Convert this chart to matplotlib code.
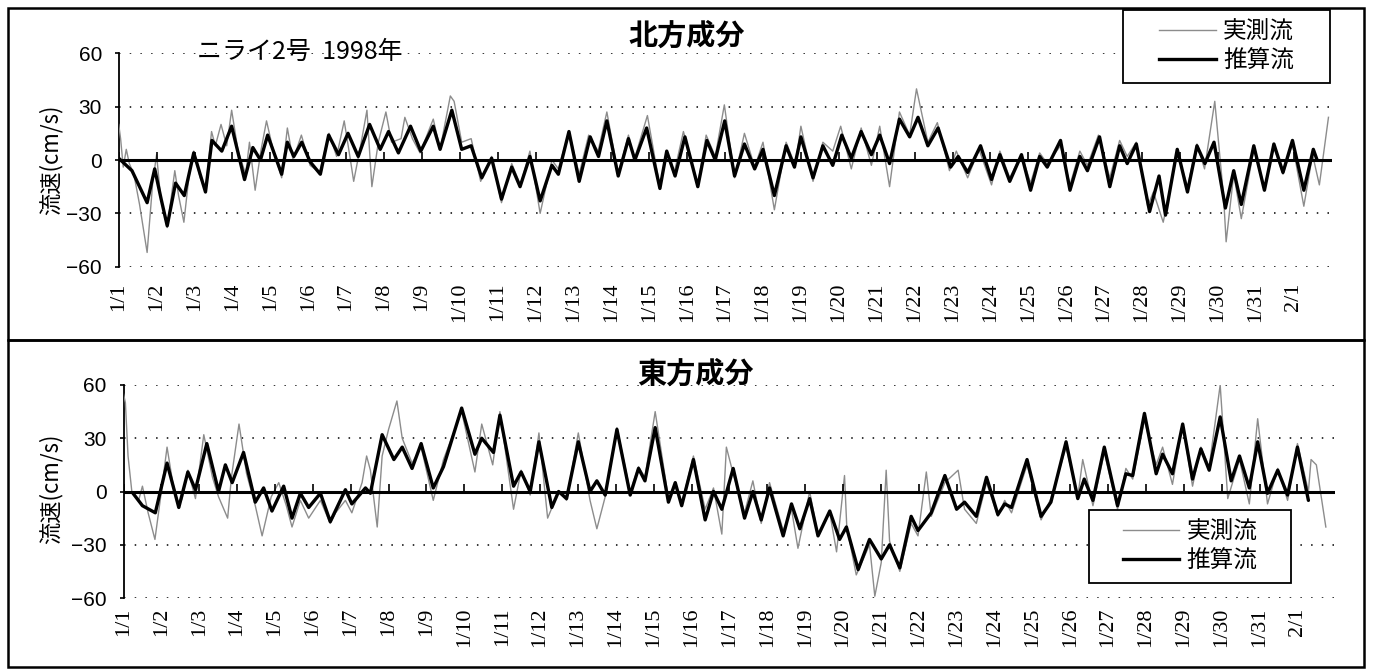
import matplotlib
matplotlib.use('Agg')
import matplotlib.pyplot as plt
from matplotlib.patches import Rectangle
from matplotlib.lines import Line2D

W, H = 1374, 670
CJK = ['Noto Sans CJK JP', 'DejaVu Sans']

# x axis: days since 1998-01-01 00:00
tick_days = list(range(32))
date_labels = ['1/%d' % d for d in range(1, 32)] + ['2/1']

# north component, observed (thin grey)
north_obs_day = [0.00, 0.05, 0.12, 0.20, 0.28, 0.40, 0.55, 0.75, 0.90, 1.00,
                 1.10, 1.28, 1.48, 1.58, 1.72, 1.85, 1.98, 2.15, 2.29, 2.45,
                 2.55, 2.70, 2.85, 2.98, 3.15, 3.35, 3.45, 3.60, 3.75, 3.90,
                 4.05, 4.30, 4.45, 4.60, 4.82, 5.05, 5.30, 5.55, 5.75, 5.95,
                 6.10, 6.20, 6.40, 6.55, 6.68, 6.85, 7.05, 7.20, 7.45, 7.55,
                 7.75, 7.95, 8.30, 8.48, 8.75, 8.85, 9.05, 9.30, 9.55, 9.84,
                 10.10, 10.37, 10.60, 10.85, 11.12, 11.43, 11.60, 11.88, 12.15, 12.40,
                 12.65, 12.88, 13.18, 13.45, 13.60, 13.95, 14.28, 14.46, 14.65, 14.90,
                 15.28, 15.50, 15.74, 15.98, 16.25, 16.51, 16.78, 17.00, 17.30, 17.61,
                 17.85, 18.00, 18.32, 18.58, 18.84, 19.05, 19.33, 19.59, 19.86, 20.08,
                 20.34, 20.60, 20.87, 21.05, 21.35, 21.60, 21.92, 22.10, 22.40, 22.70,
                 23.03, 23.25, 23.51, 23.82, 24.06, 24.30, 24.50, 24.85, 25.10, 25.36,
                 25.56, 25.85, 26.15, 26.41, 26.61, 26.85, 27.15, 27.30, 27.56, 27.93,
                 28.20, 28.45, 28.65, 28.92, 29.15, 29.22, 29.42, 29.62, 29.95, 30.23,
                 30.48, 30.72, 30.97, 31.27, 31.50, 31.68, 31.92]
north_obs = [20, 12, -4, 6, -2, -8, -25, -52, -12, 3,
             -20, -38, -6, -20, -35, -10, 5, -10, -17, 16,
             8, 20, 8, 28, 5, -8, 10, -17, 5, 22,
             8, -10, 18, 0, 14, -3, -7, 15, 2, 22,
             2, -12, 10, 28, -15, 10, 27, 10, 12, 24,
             12, 4, 23, 6, 36, 33, 10, 12, -12, 2,
             -24, -2, -14, 5, -30, 0, -5, 16, -8, 14,
             5, 27, -8, 14, 0, 25, -15, 4, -8, 16,
             -14, 14, 2, 31, -10, 15, -4, 10, -28, 10,
             -3, 19, -12, 10, 5, 19, -5, 18, -3, 19,
             -15, 27, 14, 40, 10, 21, -6, 5, -10, 6,
             -14, 5, -10, 3, -13, 4, -2, 8, -14, 5,
             -3, 14, -10, 11, 2, 10, -26, -18, -35, 4,
             -15, 9, -5, 33, -20, -46, -8, -33, 6, -15,
             7, -8, 9, -26, 3, -14, 24]

# north component, estimated (thick black)
north_est_day = [0.00, 0.15, 0.35, 0.55, 0.75, 0.95, 1.12, 1.28, 1.50, 1.73,
                 1.98, 2.29, 2.46, 2.72, 2.98, 3.32, 3.54, 3.74, 3.93, 4.30,
                 4.45, 4.62, 4.83, 5.05, 5.32, 5.54, 5.80, 6.05, 6.32, 6.62,
                 6.90, 7.12, 7.38, 7.70, 7.97, 8.30, 8.48, 8.79, 9.05, 9.30,
                 9.58, 9.84, 10.10, 10.37, 10.59, 10.85, 11.12, 11.43, 11.60, 11.88,
                 12.15, 12.44, 12.66, 12.88, 13.18, 13.45, 13.62, 13.93, 14.28, 14.46,
                 14.68, 14.94, 15.28, 15.52, 15.74, 15.99, 16.25, 16.51, 16.78, 17.00,
                 17.30, 17.61, 17.83, 18.00, 18.32, 18.58, 18.84, 19.08, 19.33, 19.59,
                 19.86, 20.08, 20.34, 20.60, 20.87, 21.09, 21.35, 21.62, 21.95, 22.15,
                 22.40, 22.74, 23.03, 23.25, 23.51, 23.82, 24.06, 24.30, 24.50, 24.85,
                 25.10, 25.36, 25.56, 25.88, 26.15, 26.41, 26.61, 26.85, 27.20, 27.45,
                 27.62, 27.93, 28.20, 28.45, 28.66, 28.90, 29.20, 29.42, 29.62, 29.95,
                 30.23, 30.48, 30.72, 30.97, 31.27, 31.52, 31.62]
north_est = [1, -2, -6, -15, -24, -5, -22, -37, -13, -20,
             4, -18, 11, 5, 19, -11, 7, 0, 14, -8,
             10, 2, 10, -1, -8, 14, 3, 15, 2, 20,
             6, 16, 4, 19, 5, 19, 6, 28, 6, 8,
             -10, 1, -22, -4, -15, 2, -23, -3, -8, 16,
             -12, 13, 2, 22, -9, 12, 0, 18, -16, 5,
             -9, 13, -15, 11, 0, 22, -9, 9, -5, 6,
             -20, 8, -4, 13, -10, 8, -3, 14, 1, 16,
             3, 14, -2, 23, 13, 24, 8, 18, -4, 2,
             -7, 8, -11, 3, -12, 3, -17, 2, -4, 11,
             -17, 2, -6, 13, -15, 8, -2, 9, -29, -9,
             -31, 6, -18, 8, -2, 10, -27, -6, -25, 8,
             -17, 9, -7, 11, -17, 6, 0]

# east component, observed
east_obs_day = [0.00, 0.05, 0.12, 0.22, 0.40, 0.50, 0.65, 0.83, 1.00, 1.15,
                1.30, 1.46, 1.55, 1.70, 1.90, 2.12, 2.35, 2.51, 2.75, 2.85,
                3.05, 3.25, 3.48, 3.66, 3.90, 4.10, 4.30, 4.45, 4.67, 4.89,
                5.20, 5.46, 5.60, 5.86, 6.03, 6.30, 6.42, 6.52, 6.70, 6.83,
                7.00, 7.22, 7.36, 7.62, 7.86, 8.18, 8.45, 8.93, 9.28, 9.46,
                9.75, 9.94, 10.30, 10.50, 10.74, 10.97, 11.20, 11.49, 11.70, 12.01,
                12.32, 12.50, 12.72, 13.03, 13.38, 13.60, 13.77, 14.04, 14.39, 14.57,
                14.74, 15.05, 15.36, 15.58, 15.80, 15.92, 16.10, 16.40, 16.62, 16.84,
                17.06, 17.42, 17.64, 17.81, 18.12, 18.34, 18.65, 18.83, 19.04, 19.10,
                19.35, 19.70, 19.84, 20.01, 20.14, 20.23, 20.50, 20.80, 20.98, 21.20,
                21.33, 21.69, 22.04, 22.21, 22.52, 22.79, 23.09, 23.27, 23.45, 23.86,
                24.23, 24.49, 24.89, 25.20, 25.33, 25.60, 25.90, 26.25, 26.47, 26.65,
                26.96, 27.27, 27.44, 27.70, 27.97, 28.23, 28.45, 28.67, 28.96, 29.16,
                29.47, 29.73, 29.95, 30.21, 30.48, 30.74, 31.00, 31.29, 31.36, 31.50,
                31.75]
east_obs = [55, 50, 20, 0, -5, 3, -12, -27, 0, 25,
            5, -8, -4, 12, -4, 32, 8, -3, -15, 8,
            38, 10, -8, -25, -3, 5, -8, -20, -5, -15,
            -5, -18, -12, -5, -12, 5, 20, 12, -20, 20,
            35, 51, 30, 16, 25, -5, 18, 45, 11, 38,
            15, 45, -10, 12, -2, 33, -15, 0, -5, 33,
            -5, -21, -3, 36, 0, 14, 8, 45, -4, 3,
            -7, 20, -10, 2, -24, 25, 10, -12, 6, -18,
            5, -22, -10, -32, 0, -25, -12, -34, 9, -20,
            -47, -30, -59, -40, 12, -28, -45, -18, -25, 11,
            -14, 5, 12, -10, -18, 5, -14, -5, -12, 15,
            -16, -4, 25, -3, 18, -8, 22, -10, 13, 7,
            40, 15, 25, 4, 38, 3, 25, 14, 60, -4,
            18, -7, 41, -7, 13, -5, 27, 0, 18, 15,
            -20]

# east component, estimated
east_est_day = [0.25, 0.50, 0.84, 1.15, 1.46, 1.70, 1.90, 2.20, 2.51, 2.69,
                2.87, 3.17, 3.48, 3.70, 3.92, 4.23, 4.45, 4.67, 4.89, 5.20,
                5.46, 5.86, 6.03, 6.39, 6.52, 6.83, 7.14, 7.36, 7.62, 7.86,
                8.18, 8.45, 8.93, 9.28, 9.46, 9.77, 9.94, 10.30, 10.50, 10.74,
                10.97, 11.31, 11.49, 11.70, 12.01, 12.32, 12.50, 12.72, 13.03, 13.38,
                13.60, 13.77, 14.04, 14.39, 14.57, 14.74, 15.05, 15.36, 15.58, 15.80,
                16.10, 16.40, 16.62, 16.84, 17.06, 17.42, 17.64, 17.86, 18.12, 18.34,
                18.65, 18.91, 19.09, 19.40, 19.70, 20.01, 20.23, 20.50, 20.80, 20.98,
                21.33, 21.69, 22.00, 22.21, 22.52, 22.79, 23.09, 23.27, 23.45, 23.86,
                24.23, 24.49, 24.89, 25.20, 25.37, 25.60, 25.90, 26.25, 26.47, 26.65,
                26.96, 27.27, 27.44, 27.70, 27.97, 28.23, 28.45, 28.67, 28.96, 29.25,
                29.47, 29.73, 29.95, 30.21, 30.48, 30.74, 31.00, 31.29]
east_est = [-1, -8, -12, 16, -9, 11, 1, 27, 0, 15,
            5, 22, -6, 2, -11, 3, -15, -1, -9, -1,
            -17, 1, -7, 2, -1, 32, 18, 25, 13, 27,
            2, 14, 47, 21, 30, 22, 43, 3, 11, 0,
            28, -9, 0, -4, 28, 0, 6, -2, 35, -2,
            13, 6, 36, -6, 5, -8, 18, -16, 0, -10,
            13, -15, 0, -16, 2, -25, -7, -21, -4, -25,
            -11, -27, -20, -44, -27, -38, -30, -43, -14, -22,
            -12, 9, -10, -6, -14, 8, -13, -7, -9, 18,
            -14, -6, 28, -4, 7, -5, 25, -8, 10, 9,
            44, 10, 21, 10, 38, 7, 24, 12, 42, 6,
            20, 2, 28, -1, 12, -2, 25, -5]


def fx(px):
    return px / W


def fy(py):
    return 1 - py / H


def draw_panel(ax, obs_day, obs, est_day, est, label_pad):
    ax.plot(obs_day, obs, color='0.55', lw=1.0, zorder=3)
    ax.plot(est_day, est, color='black', lw=2.4, zorder=4,
            solid_joinstyle='round', solid_capstyle='round')
    ax.axhline(0, color='black', lw=2.2, zorder=5)
    ax.plot(tick_days, [0] * len(tick_days), ls='none', marker=2, ms=6,
            mew=1.2, color='black', zorder=5)
    ax.set_xlim(0, 32)
    ax.set_ylim(-60, 60)
    ax.set_yticks([-60, -30, 0, 30, 60])
    ax.grid(axis='y', color='black', ls=(0, (1, 6)), lw=1.1)
    ax.set_xticks(tick_days)
    ax.set_xticklabels(date_labels, rotation=90, fontsize=16,
                       family='Liberation Serif')
    ax.tick_params(axis='x', length=0, pad=label_pad)
    ax.tick_params(axis='y', length=3, width=1.2, pad=9, labelsize=15)
    for t in ax.get_yticklabels():
        t.set_family('Liberation Sans')
    for s in ['top', 'right', 'bottom']:
        ax.spines[s].set_visible(False)
    ax.spines['left'].set_linewidth(1.3)


fig = plt.figure(figsize=(W / 100, H / 100), dpi=100)

ax1 = fig.add_axes([fx(118.7), fy(266.7), 1212.8 / W, 213.4 / H])
draw_panel(ax1, north_obs_day, north_obs, north_est_day, north_est, 11.5)

ax2 = fig.add_axes([fx(123.5), fy(598), 1211.8 / W, 213 / H])
draw_panel(ax2, east_obs_day, east_obs, east_est_day, east_est, 7)

# texts
fig.text(fx(687), fy(36), '北方成分', ha='center', va='center',
         fontsize=21, fontweight='bold', family=CJK)
fig.text(fx(695), fy(374), '東方成分', ha='center', va='center',
         fontsize=21, fontweight='bold', family=CJK)
fig.text(fx(197), fy(52), 'ニライ2号  1998年', ha='left', va='center',
         fontsize=18, family=CJK)
for yc in (160, 489):
    fig.text(fx(51), fy(yc), '流速(cm/s)', rotation=90, ha='center',
             va='center', fontsize=16, family=CJK)

# legends, each in its own white box
handles = [Line2D([], [], color='0.55', lw=1.0),
           Line2D([], [], color='black', lw=2.4)]
for (x0, y0, x1, y1) in [(1123, 10, 1330, 83), (1089, 510, 1291, 583)]:
    fig.add_artist(Rectangle((fx(x0), fy(y1)), fx(x1) - fx(x0),
                             fy(y0) - fy(y1), transform=fig.transFigure,
                             facecolor='white', edgecolor='black', lw=1.3,
                             zorder=4))
    fig.legend(handles, ['実測流', '推算流'], loc='center',
               bbox_to_anchor=(fx((x0 + x1) / 2), fy((y0 + y1) / 2)),
               frameon=False, prop={'family': CJK, 'size': 17},
               handlelength=2.4, handletextpad=0.3, labelspacing=0.25)

# outer frames of the two panels
for (x0, y0, x1, y1) in [(8, 8, 1364, 340), (8, 340, 1364, 667)]:
    fig.add_artist(Rectangle((fx(x0), fy(y1)), fx(x1) - fx(x0),
                             fy(y0) - fy(y1), transform=fig.transFigure,
                             fill=False, edgecolor='black', lw=1.8, zorder=6))

fig.savefig('out.png', dpi=100)
plt.close(fig)
